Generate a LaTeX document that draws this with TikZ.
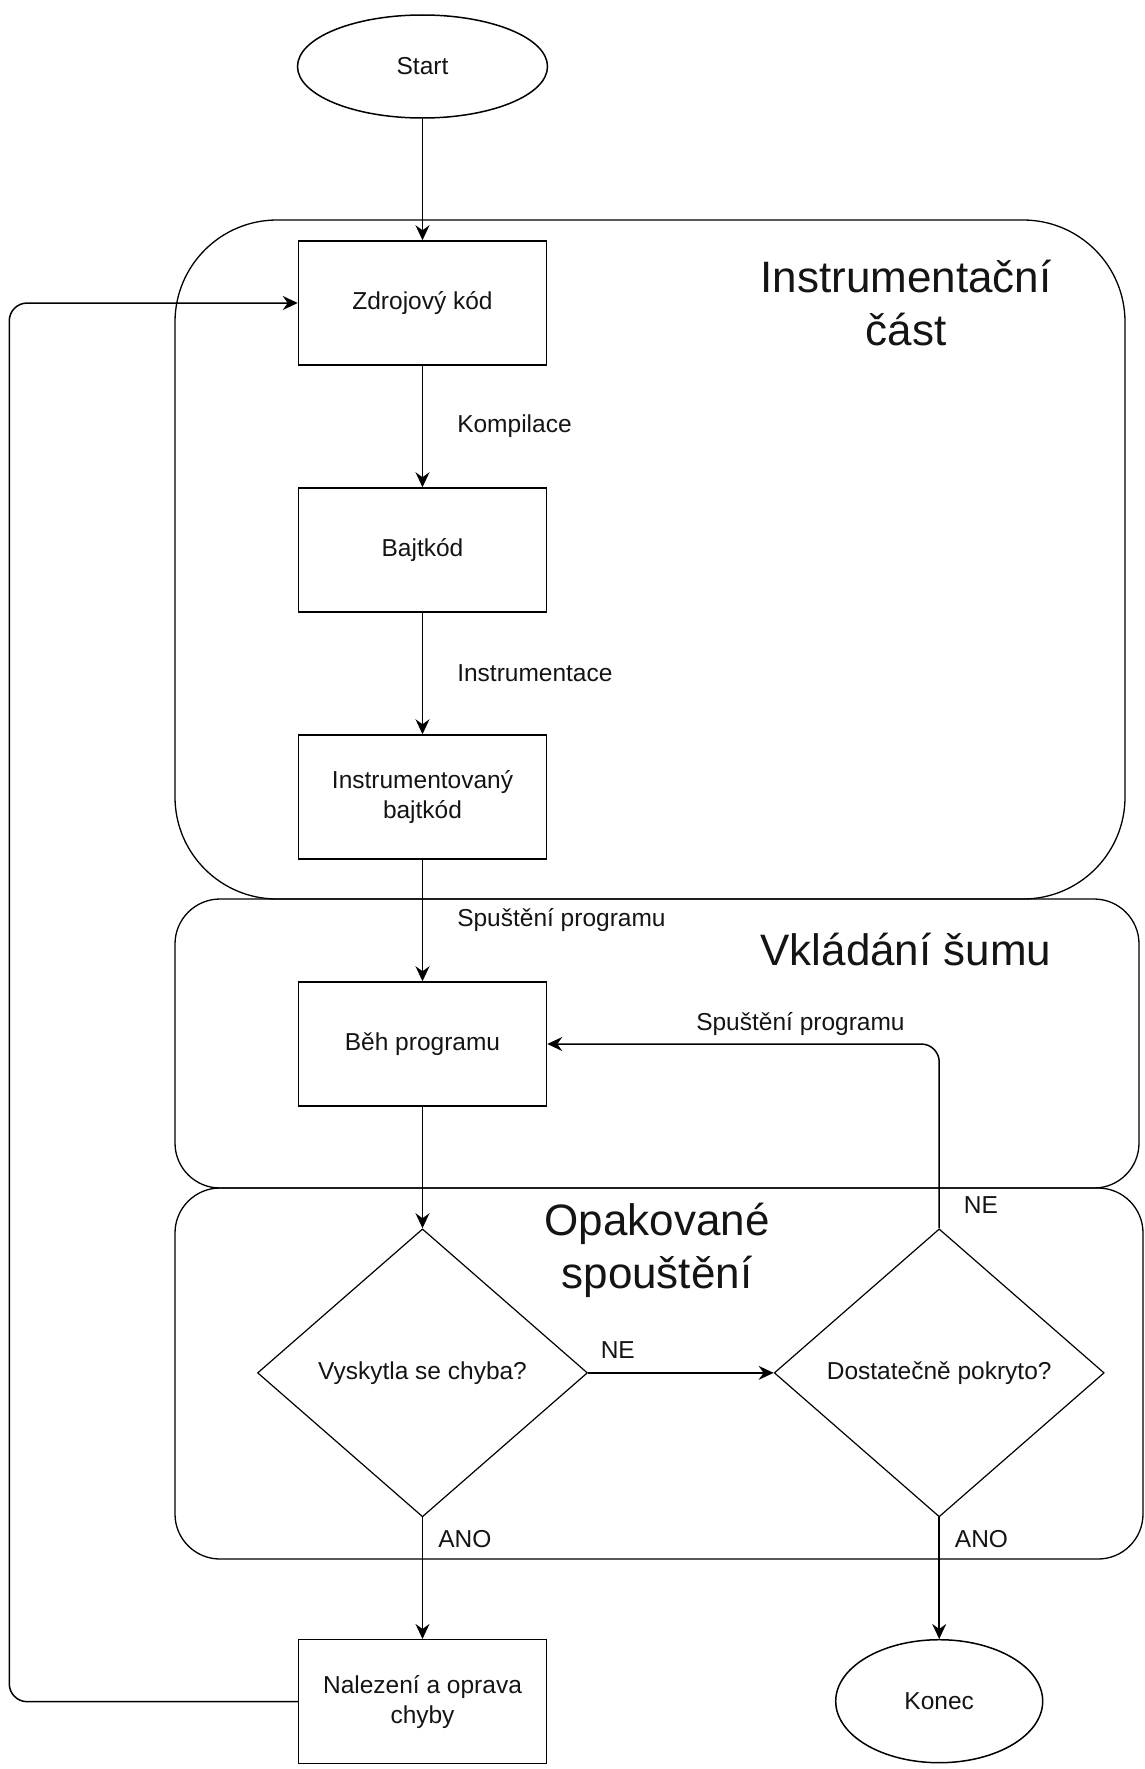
\documentclass[tikz,border=0pt]{standalone}
\usepackage{fontspec}
\setmainfont{Liberation Sans}
\usepackage{xcolor}
\definecolor{inkgray}{RGB}{20,20,20}
\usepackage{tikz}
\usetikzlibrary{shapes.geometric,arrows.meta,positioning}

\begin{document}
\begin{tikzpicture}[x=1pt,y=1pt,line width=1.5pt,node distance=121.5pt and 185.5pt]
  \tikzstyle{process}=[rectangle,draw=black,minimum width=248pt,minimum height=124pt,align=center,font=\fontsize{24.5}{30}\selectfont,text=inkgray]
  \tikzstyle{terminal}=[ellipse,draw=black,inner sep=0pt,font=\fontsize{24.5}{30}\selectfont,text=inkgray]
  \tikzstyle{decision}=[diamond,draw=black,line width=1.2pt,inner sep=0pt,minimum width=330pt,minimum height=288pt,font=\fontsize{24.5}{30}\selectfont,text=inkgray]
  \tikzstyle{group}=[draw=black,line width=1.3pt]
  \tikzstyle{title}=[inner sep=0pt,align=center,font=\fontsize{44}{53}\selectfont,text=inkgray]
  \tikzstyle{lbl}=[inner sep=0pt,font=\fontsize{24.5}{30}\selectfont,text=inkgray]
  \tikzstyle{flow}=[-{Stealth[length=15pt,width=14pt,inset=5pt]}]
  \useasboundingbox (0,0) rectangle (1145,-1769);
  \draw[group,rounded corners=102pt] (175,-220) rectangle (1125,-899);
  \draw[group,rounded corners=45pt] (175,-899) rectangle (1139,-1188);
  \draw[group,rounded corners=45pt] (175,-1188) rectangle (1143,-1559);
  \node[title] (tinstr) at (906,-303.5) {Instrumentační\\část};
  \node[title] (tnoise) at (906,-950) {Vkládání šumu};
  \node[title] (trepeat) at (657,-1250) {Opakované\\spouštění};
  \node[terminal,minimum width=250pt,minimum height=103pt] (start) at (422.5,-66.5) {Start};
  \node[process,below=of start] (src) {Zdrojový kód};
  \node[process,below=of src] (bytecode) {Bajtkód};
  \node[process,below=of bytecode] (instr) {Instrumentovaný\\bajtkód};
  \node[process,below=of instr] (run) {Běh programu};
  \node[decision,below=of run] (fault) {Vyskytla se chyba?};
  \node[decision,right=of fault] (cover) {Dostatečně pokryto?};
  \node[process,below=of fault] (fix) {Nalezení a oprava\\chyby};
  \node[terminal,minimum width=207pt,minimum height=123pt,below=of cover] (end) {Konec};
  \coordinate (rail) at ([xshift=-288.5pt]src.west);
  \draw[flow] (start) -- (src);
  \draw[flow] (src) -- node[lbl,right=34pt]{Kompilace} (bytecode);
  \draw[flow] (bytecode) -- node[lbl,right=34pt]{Instrumentace} (instr);
  \draw[flow] (instr) -- node[lbl,right=34pt]{Spuštění programu} (run);
  \draw[flow] (run) -- (fault);
  \draw[flow] (fault) -- node[lbl,pos=0.16,anchor=base,yshift=14pt]{NE} (cover);
  \draw[flow] (fault) -- node[lbl,pos=0,anchor=base west,xshift=15pt,yshift=-30pt]{ANO} (fix);
  \draw[flow] (cover) -- node[lbl,pos=0,anchor=base west,xshift=15pt,yshift=-30pt]{ANO} (end);
  \draw[flow,rounded corners=18pt] (cover) |- node[lbl,pos=0,anchor=base west,xshift=24pt,yshift=15pt]{NE} node[lbl,pos=0.677,anchor=base,yshift=14pt]{Spuštění programu} (run);
  \draw[flow,rounded corners=18pt] (fix.west) -| (rail) -- (src.west);
\end{tikzpicture}
\end{document}
